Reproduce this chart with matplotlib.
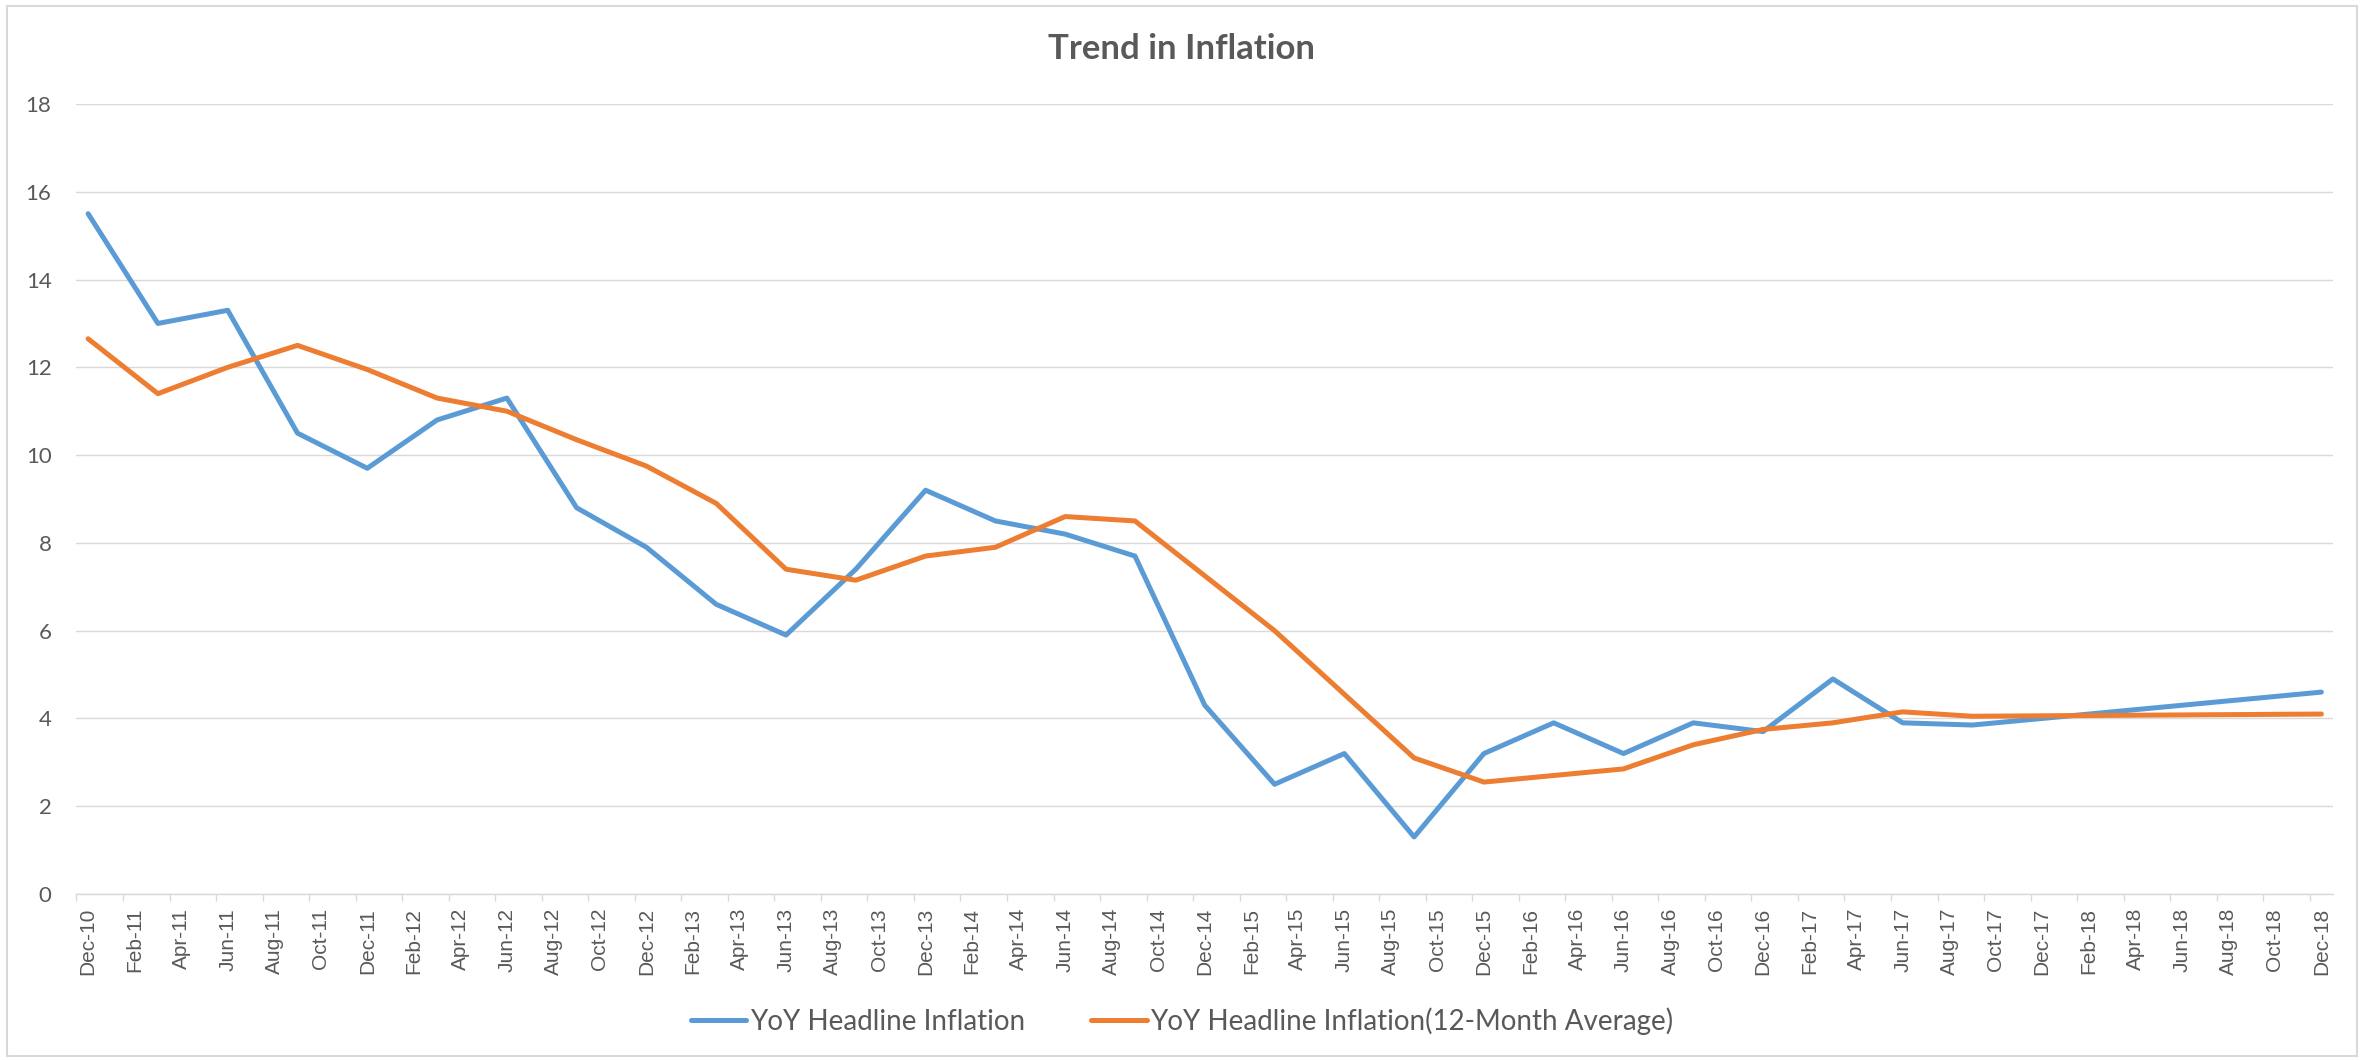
import numpy as np
import pandas as pd
import matplotlib
matplotlib.use("Agg")
import matplotlib.pyplot as plt
from matplotlib.patches import Rectangle

# quarterly observations
quarters = ["Dec-10", "Mar-11", "Jun-11", "Sep-11", "Dec-11", "Mar-12", "Jun-12", "Sep-12",
            "Dec-12", "Mar-13", "Jun-13", "Sep-13", "Dec-13", "Mar-14", "Jun-14", "Sep-14",
            "Dec-14", "Mar-15", "Jun-15", "Sep-15", "Dec-15", "Mar-16", "Jun-16", "Sep-16",
            "Dec-16", "Mar-17", "Jun-17", "Sep-17", "Dec-17", "Mar-18", "Jun-18", "Sep-18",
            "Dec-18"]
headline = [15.5, 13.0, 13.3, 10.5, 9.7, 10.8, 11.3, 8.8,
            7.9, 6.6, 5.9, 7.4, 9.2, 8.5, 8.2, 7.7,
            4.3, 2.5, 3.2, 1.3, 3.2, 3.9, 3.2, 3.9,
            3.7, 4.9, 3.9, 3.85, 4.0, 4.15, 4.3, 4.45,
            4.6]
avg_12m = [12.65, 11.4, 12.0, 12.5, 11.95, 11.3, 11.0, 10.35,
           9.75, 8.9, 7.4, 7.15, 7.7, 7.9, 8.6, 8.5,
           7.25, 6.0, 4.55, 3.1, 2.55, 2.7, 2.85, 3.4,
           3.75, 3.9, 4.15, 4.05, 4.06, 4.07, 4.08, 4.09,
           4.1]

tick_labels = ["Dec-10", "Feb-11", "Apr-11", "Jun-11", "Aug-11", "Oct-11",
               "Dec-11", "Feb-12", "Apr-12", "Jun-12", "Aug-12", "Oct-12",
               "Dec-12", "Feb-13", "Apr-13", "Jun-13", "Aug-13", "Oct-13",
               "Dec-13", "Feb-14", "Apr-14", "Jun-14", "Aug-14", "Oct-14",
               "Dec-14", "Feb-15", "Apr-15", "Jun-15", "Aug-15", "Oct-15",
               "Dec-15", "Feb-16", "Apr-16", "Jun-16", "Aug-16", "Oct-16",
               "Dec-16", "Feb-17", "Apr-17", "Jun-17", "Aug-17", "Oct-17",
               "Dec-17", "Feb-18", "Apr-18", "Jun-18", "Aug-18", "Oct-18",
               "Dec-18"]

def month_index(labels):
    d = pd.to_datetime(labels, format="%b-%y")
    return np.array((d.year - 2010) * 12 + d.month - 12)

x_pts = month_index(quarters)
x_ticks = month_index(tick_labels)

text_col = "#595959"
grid_col = "#D9D9D9"
narrow = ["Lato", "DejaVu Sans"]

fig = plt.figure(figsize=(23.64, 10.61), dpi=100)
ax = fig.add_axes([0.03236, 0.1574, 0.95453, 0.74458])

ax.plot(x_pts, headline, color="#5B9BD5", lw=3.6, solid_capstyle="round",
        solid_joinstyle="round", label="YoY Headline Inflation", zorder=3)
ax.plot(x_pts, avg_12m, color="#ED7D31", lw=3.6, solid_capstyle="round",
        solid_joinstyle="round", label="YoY Headline Inflation(12-Month Average)", zorder=3)

ax.set_xlim(-0.5, 96.5)
ax.set_ylim(0, 18)

# y axis
ax.set_yticks(np.arange(0, 19, 2))
ax.set_yticklabels([str(v) for v in range(0, 19, 2)], family=narrow, fontsize=16, color=text_col)
ax.tick_params(axis="y", length=0, pad=18)
ax.grid(axis="y", color=grid_col, lw=1.0)
ax.set_axisbelow(True)

# x axis
ax.set_xticks(x_ticks)
ax.set_xticklabels(tick_labels, rotation=90, family="Liberation Sans", fontsize=15, color=text_col)
ax.set_xticks(np.arange(-0.5, 96, 2), minor=True)
ax.tick_params(axis="x", which="major", length=0, pad=10)
ax.tick_params(axis="x", which="minor", length=5, width=1.0, color=grid_col)

for s in ["left", "top", "right"]:
    ax.spines[s].set_visible(False)
ax.spines["bottom"].set_color(grid_col)
ax.spines["bottom"].set_linewidth(1.0)

fig.text(0.5, 1 - 49 / 1061, "Trend in Inflation", ha="center", va="center",
         family=narrow, fontsize=25, fontweight="bold", color=text_col)

fig.legend(loc="center", bbox_to_anchor=(0.5, 1 - 1021 / 1061), ncol=2, frameon=False,
           prop={"family": narrow, "size": 20}, labelcolor=text_col,
           handlelength=2.0, handletextpad=0.12, columnspacing=2.4)

fig.patches.append(Rectangle((7 / 2364, 5 / 1061), 2350 / 2364, 1050 / 1061,
                             transform=fig.transFigure, fill=False,
                             edgecolor=grid_col, lw=1.5))

fig.savefig("out.png", dpi=100)
